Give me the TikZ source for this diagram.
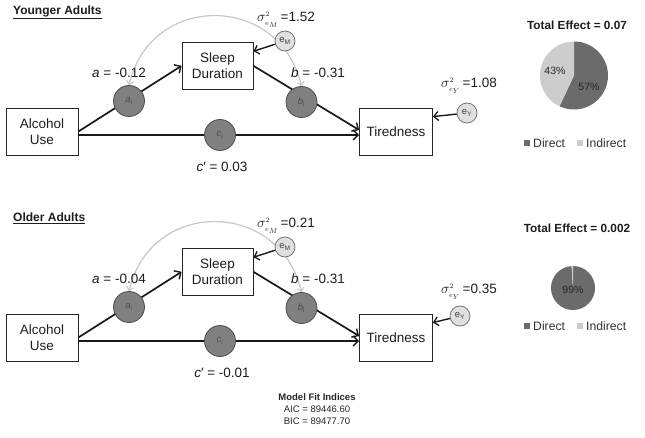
\documentclass[tikz,border=0pt]{standalone}
\usepackage{fontspec}
\setmainfont{Liberation Sans}
\usetikzlibrary{arrows.meta,calc}
\definecolor{medfill}{HTML}{808080}
\definecolor{meddraw}{HTML}{4D4D4D}
\definecolor{errfill}{HTML}{E0E0E0}
\definecolor{errdraw}{HTML}{6A6A6A}
\definecolor{arcgray}{HTML}{C8C8C8}
\definecolor{dircol}{HTML}{6B6B6B}
\definecolor{indcol}{HTML}{CDCDCD}
\definecolor{txt}{HTML}{1E1E1E}
\tikzset{
  boxnode/.style={draw=black!85, line width=0.8pt, fill=white, minimum height=47pt,
    inner sep=2pt, align=center, text=txt, font=\fontsize{13.5}{15.5}\selectfont},
  effarrow/.style={draw=black!90, line width=1.7pt, -{Straight Barb[length=5pt,width=10pt,line width=1.4pt]}},
  errarrow/.style={draw=black!90, line width=1.4pt, -{Straight Barb[length=4.5pt,width=9pt,line width=1.3pt]}},
  mednode/.style={circle, fill=medfill, draw=meddraw, line width=0.8pt, minimum size=31pt,
    inner sep=0pt, text=black!70, font=\fontsize{9.5}{9.5}\selectfont},
  errnode/.style={circle, fill=errfill, draw=errdraw, line width=0.7pt, minimum size=20pt,
    inner sep=0pt, text=black!75, font=\fontsize{9.5}{9.5}\selectfont},
  arcline/.style={draw=arcgray, line width=1.2pt,
    {Straight Barb[length=3.5pt,width=7pt,line width=1pt]}-{Straight Barb[length=3.5pt,width=7pt,line width=1pt]}},
  lab/.style={text=txt, font=\fontsize{13.5}{15}\selectfont, inner sep=0pt},
  paneltitle/.style={anchor=west, text=txt, inner sep=0pt, font=\bfseries\fontsize{12}{14}\selectfont},
  pietitle/.style={text=txt, inner sep=0pt, font=\bfseries\fontsize{11.8}{14}\selectfont},
  pct/.style={text=black!85, inner sep=0pt, font=\fontsize{10.5}{12}\selectfont},
  legtext/.style={anchor=west, text=black!80, inner sep=0pt, font=\fontsize{12.2}{14}\selectfont},
  legsq/.style={minimum size=6pt, inner sep=0pt},
  fitnode/.style={text=black!85, inner sep=0pt, font=\fontsize{9.5}{12}\selectfont}
}
\newcommand\sigvar[2]{$\sigma^{\scriptscriptstyle 2}_{\scriptscriptstyle e_{#1}}$\,=#2}
% #1 prefix, #2 y offset, #3 title, #4 a, #5 b, #6 c', #7 sigma M, #8 sigma Y, #9 eY position
\newcommand\drawpanel[9]{%
\begin{scope}[shift={(0,#2)}]
  \node[paneltitle] (#1title) at (13,12) {\underline{#3}};
  \node[boxnode, minimum width=72pt] (#1alc) at (42,131.5) {Alcohol\\Use};
  \node[boxnode, minimum width=71pt] (#1slp) at (217.5,65.8) {Sleep\\Duration};
  \node[boxnode, minimum width=73pt] (#1tir) at (396,131.5) {Tiredness};
  \draw[effarrow] (#1alc.east) -- (#1slp.west);
  \draw[effarrow] (#1slp.east) -- ($(#1tir.west)+(0,-1.5)$);
  \draw[effarrow] ($(#1alc.east)+(0,3.5)$) -- ($(#1tir.west)+(0,3.5)$);
  \node[mednode] (#1ai) at (129,101) {\textit{a}\textsubscript{i}};
  \node[mednode] (#1bi) at (301.5,102) {\textit{b}\textsubscript{i}};
  \node[mednode] (#1ci) at (220,135) {\textit{c}\textsubscript{i}};
  \draw[arcline] (#1ai.north) .. controls ($(#1ai.north)+(22,-93)$) and ($(#1bi.north)+(-22,-93)$) .. (#1bi.north);
  \node[errnode] (#1eM) at (285,41) {e\textsubscript{M}};
  \draw[errarrow] (#1eM) -- (#1slp.22);
  \node[lab] (#1sM) at (286,20) {\sigvar{M}{#7}};
  \node[errnode] (#1eY) at (#9) {e\textsubscript{Y}};
  \draw[errarrow] (#1eY) -- (#1tir.22);
  \node[lab] (#1sY) at (469,86) {\sigvar{Y}{#8}};
  \node[lab] (#1alab) at (119,73) {\textit{a} = #4};
  \node[lab] (#1blab) at (318,73) {\textit{b} = #5};
  \node[lab] (#1clab) at (222,167) {\textit{c}′ = #6};
\end{scope}}
\begin{document}
\begin{tikzpicture}[x=1pt,y=-1pt]
\useasboundingbox (0,0) rectangle (645,438);
\fill[white] (0,0) rectangle (645,438);
\drawpanel{y}{0}{Younger Adults}{-0.12}{-0.31}{0.03}{1.52}{1.08}{467,113}
\drawpanel{o}{206}{Older Adults}{-0.04}{-0.31}{-0.01}{0.21}{0.35}{460,110}
% top pie
\node[pietitle] (ptitle1) at (577,25) {Total Effect = 0.07};
\begin{scope}[shift={(574,75.5)}, y=1pt]
  \fill[dircol] (0,0) -- (90:34pt) arc[start angle=90, end angle=-115.2, radius=34pt] -- cycle;
  \fill[indcol] (0,0) -- (-115.2:34pt) arc[start angle=-115.2, end angle=-270, radius=34pt] -- cycle;
\end{scope}
\node[pct] (p57) at (589,87) {57\%};
\node[pct] (p43) at (555,71) {43\%};
\node[legsq, fill=dircol] (lsq1) at (527,143) {};
\node[legtext] (ld1) at (533,143) {Direct};
\node[legsq, fill=indcol] (lsq2) at (580,143) {};
\node[legtext] (li1) at (586,143) {Indirect};
% bottom pie
\node[pietitle] (ptitle2) at (577,228) {Total Effect = 0.002};
\begin{scope}[shift={(573,288)}, y=1pt]
  \fill[dircol] (0,0) -- (90:22pt) arc[start angle=90, end angle=-266.4, radius=22pt] -- cycle;
  \fill[indcol] (0,0) -- (-266.4:22pt) arc[start angle=-266.4, end angle=-270, radius=22pt] -- cycle;
\end{scope}
\node[pct] (p99) at (573,290) {99\%};
\node[legsq, fill=dircol] (lsq3) at (527,326) {};
\node[legtext] (ld2) at (533,326) {Direct};
\node[legsq, fill=indcol] (lsq4) at (580,326) {};
\node[legtext] (li2) at (586,326) {Indirect};
% fit indices
\node[fitnode, font=\bfseries\fontsize{9.5}{12}\selectfont] (mfi) at (317,397) {Model Fit Indices};
\node[fitnode] (aic) at (317,409) {AIC = 89446.60};
\node[fitnode] (bic) at (317,421) {BIC = 89477.70};
\end{tikzpicture}
\end{document}
